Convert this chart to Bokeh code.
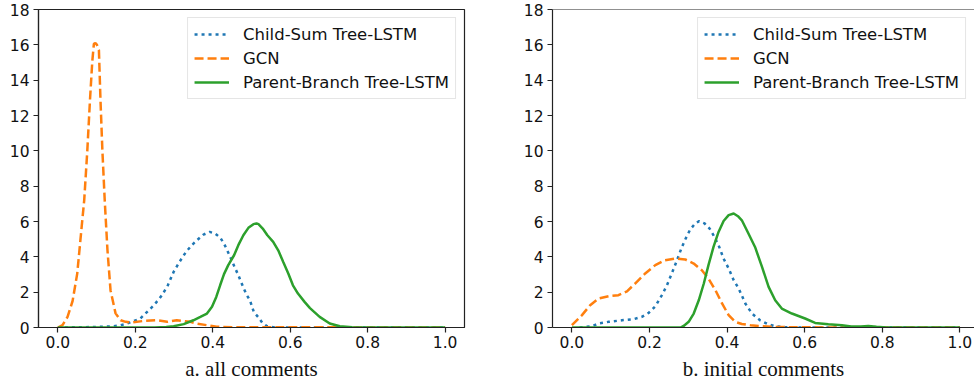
from bokeh.plotting import figure
from bokeh.layouts import row
from bokeh.models import Range1d, FixedTicker, Legend, LegendItem, Span
from bokeh.embed import file_html
from bokeh.resources import INLINE

# ---------------- data ----------------
series_names = ["Child-Sum Tree-LSTM", "GCN", "Parent-Branch Tree-LSTM"]
panel_titles = ["a. all comments", "b. initial comments"]
x_ticks = [0.0, 0.2, 0.4, 0.6, 0.8, 1.0]
x_tick_labels = ["0.0", "0.2", "0.4", "0.6", "0.8", "1.0"]
y_ticks = [0, 2, 4, 6, 8, 10, 12, 14, 16, 18]

# panel a: all comments
a_childsum_x = [0.0, 0.05, 0.1, 0.14, 0.16, 0.175, 0.185, 0.196, 0.213, 0.235, 0.248, 0.269, 0.284,
                0.299, 0.314, 0.331, 0.346, 0.359, 0.376, 0.392, 0.406, 0.419, 0.428, 0.436, 0.445,
                0.455, 0.466, 0.479, 0.488, 0.496, 0.506, 0.518, 0.529, 0.539, 0.555, 0.6, 1.0]
a_childsum_y = [0.0, 0.01, 0.03, 0.06, 0.12, 0.2, 0.28, 0.37, 0.51, 0.98, 1.26, 1.83, 2.39,
                3.15, 3.71, 4.28, 4.66, 4.94, 5.26, 5.41, 5.32, 5.09, 4.79, 4.43, 4.0,
                3.49, 2.96, 2.26, 1.83, 1.54, 0.88, 0.57, 0.23, 0.09, 0.02, 0.0, 0.0]

a_gcn_x = [0.0, 0.012, 0.025, 0.038, 0.05, 0.058, 0.068, 0.076, 0.083, 0.089, 0.093, 0.097, 0.101,
           0.106, 0.11, 0.115, 0.121, 0.128, 0.136, 0.149, 0.162, 0.175, 0.19, 0.221, 0.256, 0.282,
           0.307, 0.342, 0.359, 0.385, 0.41, 0.45, 0.6, 0.7, 0.8, 1.0]
a_gcn_y = [0.0, 0.13, 0.6, 1.5, 3.05, 4.9, 7.2, 10.0, 12.9, 15.1, 16.05, 16.1, 16.0,
           15.7, 12.9, 10.0, 7.2, 4.4, 2.1, 0.8, 0.41, 0.32, 0.28, 0.37, 0.41, 0.32,
           0.41, 0.32, 0.22, 0.13, 0.04, 0.02, 0.02, 0.01, 0.0, 0.0]

a_parent_x = [0.0, 0.25, 0.28, 0.299, 0.325, 0.35, 0.368, 0.385, 0.398, 0.409, 0.419, 0.429, 0.44,
              0.455, 0.466, 0.479, 0.492, 0.505, 0.513, 0.518, 0.529, 0.541, 0.556, 0.569, 0.582,
              0.595, 0.607, 0.62, 0.637, 0.651, 0.676, 0.702, 0.728, 0.76, 0.8, 1.0]
a_parent_y = [0.0, 0.0, 0.03, 0.07, 0.19, 0.41, 0.6, 0.79, 1.17, 1.73, 2.39, 3.02, 3.53,
              4.09, 4.66, 5.22, 5.64, 5.85, 5.89, 5.85, 5.6, 5.22, 4.85, 4.37, 3.71,
              3.06, 2.39, 1.92, 1.45, 1.1, 0.6, 0.23, 0.07, 0.02, 0.0, 0.0]

# panel b: initial comments
b_childsum_x = [0.02, 0.035, 0.052, 0.069, 0.095, 0.129, 0.159, 0.18, 0.198, 0.215, 0.232, 0.245,
                0.258, 0.271, 0.282, 0.292, 0.305, 0.318, 0.328, 0.342, 0.355, 0.365, 0.378,
                0.391, 0.404, 0.417, 0.43, 0.447, 0.464, 0.485, 0.507, 0.524, 0.55, 0.6, 1.0]
b_childsum_y = [0.0, 0.04, 0.07, 0.23, 0.32, 0.41, 0.47, 0.6, 0.83, 1.2, 1.83, 2.39,
                3.09, 3.81, 4.47, 4.98, 5.55, 5.89, 6.02, 5.89, 5.6, 5.22, 4.66,
                3.9, 3.34, 2.68, 2.2, 1.36, 0.79, 0.41, 0.17, 0.07, 0.02, 0.0, 0.0]

b_gcn_x = [0.0, 0.026, 0.047, 0.069, 0.095, 0.12, 0.142, 0.163, 0.189, 0.215, 0.24, 0.266,
           0.292, 0.314, 0.335, 0.352, 0.37, 0.387, 0.404, 0.421, 0.438, 0.46, 0.481, 0.524,
           0.6, 0.7, 1.0]
b_gcn_y = [0.13, 0.7, 1.26, 1.64, 1.77, 1.83, 2.05, 2.49, 3.06, 3.53, 3.81, 3.9,
           3.85, 3.62, 3.24, 2.77, 2.11, 1.36, 0.7, 0.32, 0.2, 0.13, 0.09, 0.03,
           0.01, 0.0, 0.0]

b_parent_x = [0.0, 0.28, 0.288, 0.301, 0.314, 0.327, 0.34, 0.352, 0.365, 0.378, 0.391, 0.404,
              0.417, 0.428, 0.438, 0.455, 0.472, 0.49, 0.507, 0.524, 0.541, 0.567, 0.601,
              0.627, 0.661, 0.696, 0.72, 0.745, 0.764, 0.785, 0.81, 1.0]
b_parent_y = [0.0, 0.0, 0.09, 0.32, 0.79, 1.54, 2.49, 3.53, 4.56, 5.41, 6.03, 6.36,
              6.45, 6.3, 6.07, 5.32, 4.56, 3.43, 2.3, 1.54, 1.07, 0.79, 0.51,
              0.26, 0.19, 0.13, 0.06, 0.05, 0.09, 0.04, 0.0, 0.0]

# ---------------- styling ----------------
COLORS = ["#1f77b4", "#ff7f0e", "#2ca02c"]
DASHES = ["3 4", "9 4", "solid"]
SANS = "DejaVu Sans"
SERIF = "Liberation Serif"
SPINE = "#222222"


def make_panel(title, xs, ys, width, border_left, border_right, x_end, open_right=False):
    p = figure(width=width, height=386, output_backend="svg", toolbar_location=None,
               x_range=Range1d(-0.05, x_end), y_range=Range1d(0, 18),
               min_border_left=border_left, min_border_right=border_right,
               min_border_top=9, min_border_bottom=59)
    p.grid.visible = False
    p.background_fill_color = "white"
    p.border_fill_color = "white"
    if open_right:
        # right spine falls outside the picture: draw only the top spine
        p.outline_line_color = None
        p.add_layout(Span(location=18, dimension="width", line_color=SPINE, line_width=1.2))
    else:
        p.outline_line_color = SPINE
        p.outline_line_width = 1.2

    renderers = []
    for x, y, c, d in zip(xs, ys, COLORS, DASHES):
        r = p.line(x, y, line_color=c, line_width=2.5, line_dash=d)
        renderers.append(r)

    for ax in (p.xaxis[0], p.yaxis[0]):
        ax.axis_line_color = SPINE
        ax.axis_line_width = 1.2
        ax.major_tick_line_color = SPINE
        ax.major_tick_line_width = 1.2
        ax.major_tick_out = 5
        ax.major_tick_in = 0
        ax.minor_tick_line_color = None
        ax.major_label_text_font = SANS
        ax.major_label_text_font_size = "15.5px"
        ax.major_label_text_color = "#111111"
    p.yaxis.major_label_standoff = 4
    p.xaxis.major_label_standoff = 3

    p.xaxis.ticker = FixedTicker(ticks=x_ticks)
    p.xaxis.major_label_overrides = {t: l for t, l in zip(x_ticks, x_tick_labels)}
    p.yaxis.ticker = FixedTicker(ticks=y_ticks)
    p.xaxis.axis_label = title
    p.xaxis.axis_label_text_font = SERIF
    p.xaxis.axis_label_text_font_style = "normal"
    p.xaxis.axis_label_text_font_size = "21px"
    p.xaxis.axis_label_text_color = "#111111"
    p.xaxis.axis_label_standoff = 6

    legend = Legend(items=[LegendItem(label=n, renderers=[r]) for n, r in zip(series_names, renderers)],
                    location="top_right", margin=8, padding=6, spacing=4,
                    glyph_width=35, glyph_height=20, label_height=20, label_standoff=14,
                    label_text_font=SANS, label_text_font_size="16.5px", label_text_color="#111111",
                    border_line_color="#cccccc", border_line_width=1,
                    background_fill_color="white", background_fill_alpha=0.8)
    p.add_layout(legend)
    return p


p1 = make_panel(panel_titles[0], [a_childsum_x, a_gcn_x, a_parent_x],
                [a_childsum_y, a_gcn_y, a_parent_y], 480, 38, 16, 1.05)
p2 = make_panel(panel_titles[1], [b_childsum_x, b_gcn_x, b_parent_x],
                [b_childsum_y, b_gcn_y, b_parent_y], 494, 72, 0, 1.0377, open_right=True)

layout = row(p1, p2)
open("out.html", "w").write(file_html(layout, INLINE))
